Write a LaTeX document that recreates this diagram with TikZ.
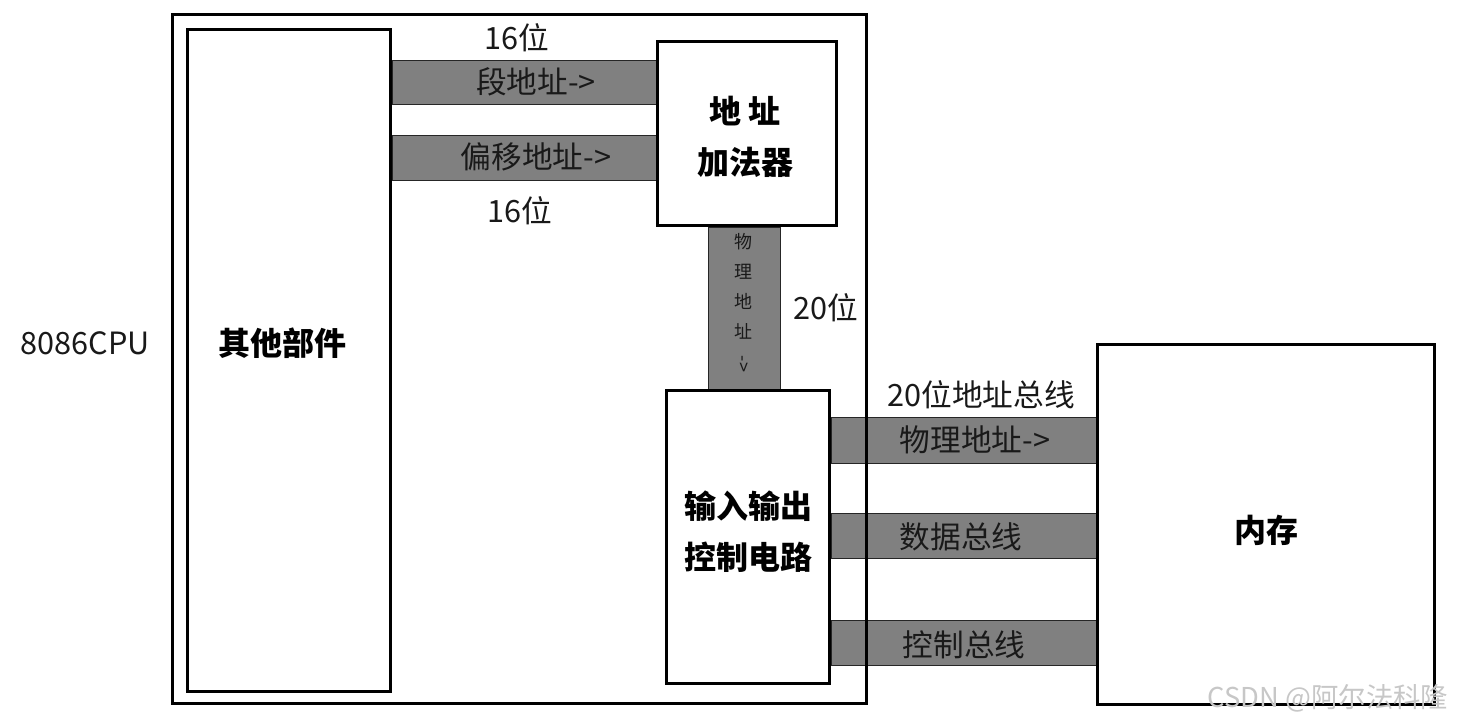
\documentclass[tikz,border=0pt]{standalone}
\usepackage{fontspec}
\setmainfont{Noto Sans CJK SC}
\usetikzlibrary{backgrounds}
\begin{document}
\begin{tikzpicture}[x=0.75pt,y=-0.75pt,
  box/.style={draw=black, line width=2.25pt, inner sep=0pt, fill=none},
  band/.style={fill=black!50, draw=black!85, line width=0.6pt},
  lbl/.style={inner sep=0pt, font=\fontsize{23}{26}\selectfont, text=black!90},
  blbl/.style={inner sep=0pt, font=\fontsize{24}{38}\selectfont\bfseries, text=black, align=center},
  small/.style={inner sep=0pt, font=\fontsize{13.5}{22.5}\selectfont, text=black!90, align=center}]
\useasboundingbox (0,0) rectangle (1458,726);
% boxes
\node[box, minimum width=520.5pt, minimum height=516.75pt] (cpu) at (519.5,359) {};
\node[box, minimum width=152.25pt, minimum height=496.5pt] (other) at (289,360.5) {};
\node[box, minimum width=134.25pt, minimum height=138pt] (adder) at (747,133.5) {};
\node[box, minimum width=122.25pt, minimum height=219.75pt] (io) at (748,537) {};
\node[box, minimum width=252.75pt, minimum height=270pt] (mem) at (1266,524.5) {};
% bands
\begin{pgfonlayer}{background}
\fill[white] (0,0) rectangle (1458,726);
\path[band] (other.east |- 0,60) rectangle (adder.west |- 0,104);
\path[band] (other.east |- 0,135) rectangle (adder.west |- 0,180);
\path[band] (708,0 |- adder.south) rectangle (780,0 |- io.north);
\path[band] (io.east |- 0,417) rectangle (mem.west |- 0,463);
\path[band] (io.east |- 0,513) rectangle (mem.west |- 0,558);
\path[band] (io.east |- 0,620) rectangle (mem.west |- 0,665);
\end{pgfonlayer}
% labels
\node[lbl] (t16a) at (517,38) {16位};
\node[lbl] (tseg) at (536,82) {段地址->};
\node[lbl] (toff) at (536,157) {偏移地址->};
\node[lbl] (t16b) at (520,211) {16位};
\node[blbl] (tadd) at (745,137) {地\ 址\\加法器};
\node[small] (tphys) at (743,286.5) {物\\理\\地\\址};
\node[small, rotate=-90] (tarr) at (743,364) {->};
\node[lbl] (t20) at (826,308) {20位};
\node[lbl] (tcpu) at (85,343) {8086CPU};
\node[blbl] (tother) at (282,343) {其他部件};
\node[lbl] (t20bus) at (981,395) {20位地址总线};
\node[lbl] (tpa) at (975,440) {物理地址->};
\node[lbl] (tdata) at (961,537) {数据总线};
\node[lbl] (tctrl) at (964,645) {控制总线};
\node[blbl] (tio) at (748,532) {输入输出\\控制电路};
\node[blbl] (tmem) at (1266,530) {内存};
\node[inner sep=0pt, font=\fontsize{20.5}{22}\selectfont, text=black!22] (wm) at (1328,698) {CSDN @阿尔法科隆};
\end{tikzpicture}
\end{document}
